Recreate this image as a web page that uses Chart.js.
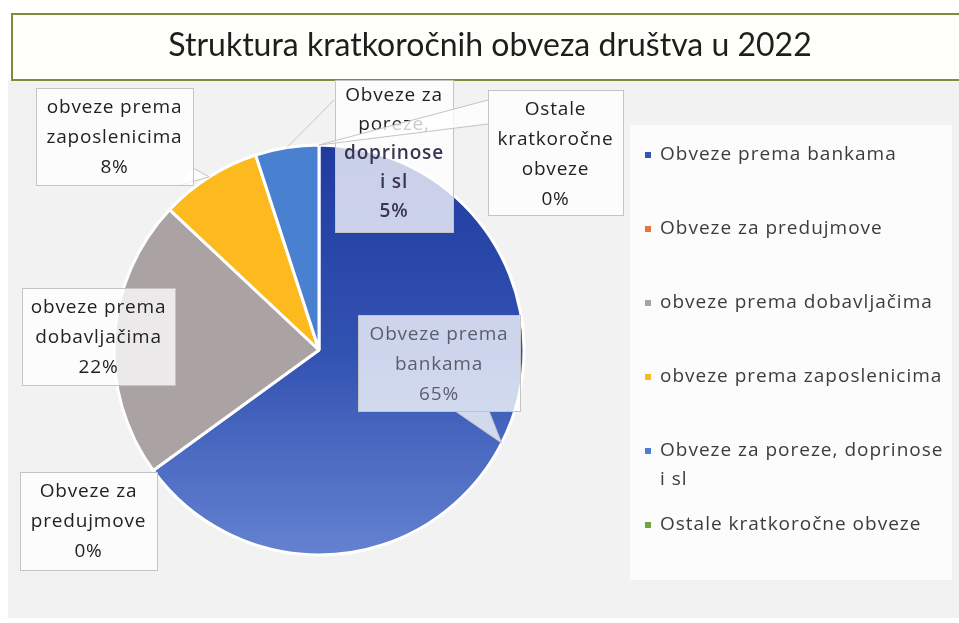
<!DOCTYPE html>
<html>
<head>
<meta charset="utf-8">
<script src="https://cdn.jsdelivr.net/npm/chart.js@4.4.0/dist/chart.umd.min.js"></script>
<style>
html, body { margin: 0; padding: 0; background: #fff; }
</style>
</head>
<body>
<canvas id="myChart" width="959" height="623"></canvas>
<script>
// podaci
const chartTitle = 'Struktura kratkoročnih obveza društva u 2022';
const categories = ['Obveze prema bankama', 'Obveze za predujmove', 'obveze prema dobavljačima',
  'obveze prema zaposlenicima', 'Obveze za poreze, doprinose i sl', 'Ostale kratkoročne obveze'];
const shares = [65, 0, 22, 8, 5, 0];
const sliceColors = ['#3454b4', '#e8743b', '#aba3a3', '#fdba1e', '#4a80d0', '#70a246'];
// tekst u oblacicima (po redovima)
const labelLines = [['Obveze prema', 'bankama'], ['Obveze za', 'predujmove'], ['obveze prema', 'dobavljačima'],
  ['obveze prema', 'zaposlenicima'], ['Obveze za', 'poreze,', 'doprinose', 'i sl'], ['Ostale', 'kratkoročne', 'obveze']];
const legendLines = [['Obveze prema bankama'], ['Obveze za predujmove'], ['obveze prema dobavljačima'],
  ['obveze prema zaposlenicima'], ['Obveze za poreze, doprinose', 'i sl'], ['Ostale kratkoročne obveze']];

const FONT = '"Open Sans", sans-serif';

// pozicije oblacica
const boxes = [
  {x: 358, y: 315, w: 162, h: 96, color: '#5d5d6d', tail: [[455, 411], [489, 411]]},
  {x: 20, y: 472, w: 137, h: 98, color: '#222'},
  {x: 22, y: 288, w: 153, h: 97, color: '#222'},
  {x: 36, y: 88, w: 157, h: 97, color: '#222', tail: [[180, 185], [193, 168]]},
  {x: 335, y: 80, w: 118, h: 152, color: '#222', top: 16, gap: 29, boldFrom: 2, boldColor: '#3a3552', leader: [334, 100]},
  {x: 488, y: 90, w: 135, h: 125, color: '#222', tail: [[488, 100], [488, 124]]}
];

function anchorOf(arc, mid) {
  const a = mid ? (arc.startAngle + arc.endAngle) / 2 : arc.startAngle;
  return [arc.x + Math.cos(a) * arc.outerRadius, arc.y + Math.sin(a) * arc.outerRadius];
}

const backPlugin = {
  id: 'backPlugin',
  beforeDraw(chart) {
    const c = chart.ctx;
    c.save();
    c.fillStyle = '#f2f2f2';
    c.fillRect(8, 80, 951, 538);
    c.fillStyle = '#fcfcfc';
    c.fillRect(630, 125, 322, 455);
    // naslov
    c.fillStyle = '#fffff9';
    c.fillRect(12, 14, 960, 66);
    c.strokeStyle = '#7f8c3c';
    c.lineWidth = 2;
    c.strokeRect(12, 14, 960, 66);
    c.fillStyle = '#1e1e1e';
    c.font = '32px Lato, sans-serif';
    c.textAlign = 'center';
    c.textBaseline = 'middle';
    c.fillText(chartTitle, 490, 46);
    c.restore();
  }
};

const labelPlugin = {
  id: 'labelPlugin',
  afterDraw(chart) {
    const c = chart.ctx;
    const arcs = chart.getDatasetMeta(0).data;
    const total = shares.reduce((s, v) => s + v, 0);
    c.save();
    c.letterSpacing = '0.8px';
    boxes.forEach((b, i) => {
      const zero = shares[i] === 0;
      const tip = anchorOf(arcs[i], !zero);
      c.fillStyle = 'rgba(255,255,255,0.76)';
      c.strokeStyle = '#c4c4c4';
      c.lineWidth = 1;
      if (b.leader) {
        c.beginPath();
        c.moveTo(b.leader[0], b.leader[1]);
        c.lineTo(tip[0], tip[1]);
        c.stroke();
      }
      if (b.tail) {
        c.beginPath();
        c.moveTo(b.tail[0][0], b.tail[0][1]);
        c.lineTo(tip[0], tip[1]);
        c.lineTo(b.tail[1][0], b.tail[1][1]);
        c.closePath();
        c.fill();
        c.beginPath();
        c.moveTo(b.tail[0][0], b.tail[0][1]);
        c.lineTo(tip[0], tip[1]);
        c.lineTo(b.tail[1][0], b.tail[1][1]);
        c.stroke();
      }
      c.fillRect(b.x, b.y, b.w, b.h);
      c.strokeRect(b.x + 0.5, b.y + 0.5, b.w, b.h);

      const lines = labelLines[i].concat([Math.round(shares[i] / total * 100) + '%']);
      const top = b.top || 20, gap = b.gap || 30;
      c.textAlign = 'center';
      c.textBaseline = 'middle';
      lines.forEach((t, k) => {
        const bold = b.boldFrom !== undefined && k >= b.boldFrom;
        c.font = (bold ? '600 ' : '') + '19px ' + FONT;
        c.fillStyle = bold ? b.boldColor : b.color;
        c.fillText(t, b.x + b.w / 2, b.y + top + k * gap);
      });
    });

    // legenda
    c.letterSpacing = '1px';
    c.textAlign = 'left';
    c.textBaseline = 'middle';
    c.font = '19px ' + FONT;
    legendLines.forEach((lines, i) => {
      const y = 155 + i * 74;
      c.fillStyle = sliceColors[i];
      c.fillRect(645, y - 3, 6, 6);
      c.fillStyle = '#3c3c3c';
      lines.forEach((t, k) => c.fillText(t, 660, y + k * 29));
    });
    c.restore();
  }
};

const ctx = document.getElementById('myChart');
const myChart = new Chart(ctx, {
  type: 'pie',
  data: {
    labels: categories,
    datasets: [{
      data: shares,
      backgroundColor: (context) => {
        const area = context.chart.chartArea;
        if (context.dataIndex !== 0 || !area) return sliceColors[context.dataIndex];
        const g = context.chart.ctx.createLinearGradient(0, area.top, 0, area.bottom);
        g.addColorStop(0, '#1f3b9e');
        g.addColorStop(0.5, '#3252b2');
        g.addColorStop(1, '#6482d0');
        return g;
      },
      borderColor: '#ffffff',
      borderWidth: 3
    }]
  },
  options: {
    responsive: false,
    animation: false,
    radius: 205,
    layout: { padding: { left: 114, right: 435, top: 145, bottom: 68 } },
    plugins: {
      legend: { display: false },
      tooltip: { enabled: false }
    }
  },
  plugins: [backPlugin, labelPlugin]
});
</script>
</body>
</html>
